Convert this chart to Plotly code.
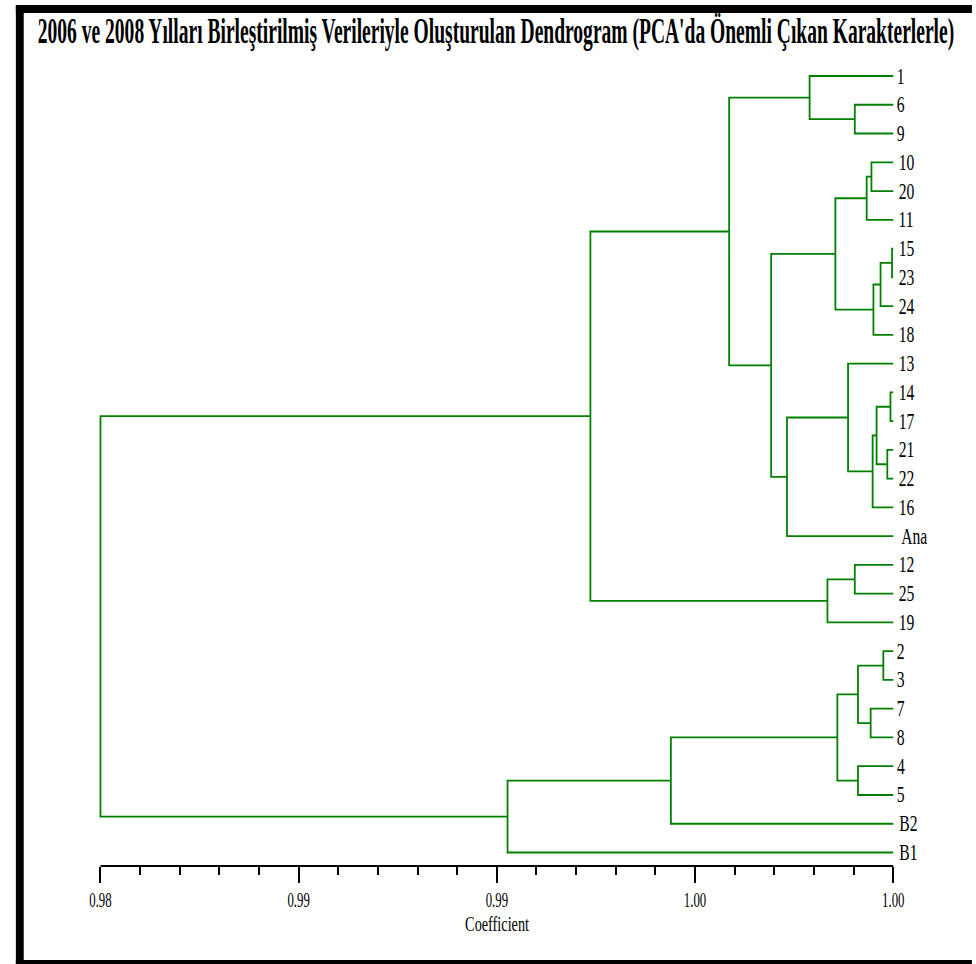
import plotly.graph_objects as go

# ---------------- data ----------------
leaf_labels = ["1", "6", "9", "10", "20", "11", "15", "23", "24", "18",
               "13", "14", "17", "21", "22", "16", "Ana", "12", "25", "19",
               "2", "3", "7", "8", "4", "5", "B2", "B1"]

node_ids = ["n1", "n2", "n3", "n4", "n5", "n6", "n7", "n8", "n9", "n10",
            "n11", "n12", "n13", "n14", "n15", "n16", "n17", "n18", "n19",
            "n20", "n21", "n22", "n23", "n24", "n25", "n26", "n27"]
left_child = ["6", "1", "10", "n3", "15", "n5", "n6", "n4", "14", "21",
              "n9", "n11", "13", "n13", "n8", "n2", "12", "n17", "n16",
              "2", "7", "n20", "4", "n22", "n24", "n25", "n19"]
right_child = ["9", "n1", "20", "11", "23", "24", "18", "n7", "17", "22",
               "n10", "16", "n12", "Ana", "n14", "n15", "25", "19", "n18",
               "3", "8", "n21", "5", "n23", "B2", "B1", "n26"]
merge_height = [0.99903, 0.99789, 0.99945, 0.99933, 0.99997, 0.99968, 0.99950,
                0.99854, 0.99993, 0.99985, 0.99958, 0.99948, 0.99886, 0.99732,
                0.99692, 0.99586, 0.99903, 0.99834, 0.99236, 0.99975, 0.99943,
                0.99911, 0.99911, 0.99859, 0.99439, 0.99027, 0.98000]
leaf_height = 1.0

tick_values = [0.98, 0.985, 0.99, 0.995, 1.00]
tick_labels = ["0.98", "0.99", "0.99", "1.00", "1.00"]
axis_min, axis_max = 0.98, 1.00

title_text = "2006 ve 2008 Yılları Birleştirilmiş Verileriyle Oluşturulan Dendrogram (PCA'da Önemli Çıkan Karakterlerle)"
x_title = "Coefficient"

# ---------------- geometry from the tree ----------------
pos = {lab: (leaf_height, i) for i, lab in enumerate(leaf_labels)}
xs, ys = [], []
for nid, a, b, h in zip(node_ids, left_child, right_child, merge_height):
    xa, ya = pos[a]
    xb, yb = pos[b]
    xs += [xa, h, h, xb, None]
    ys += [ya, ya, yb, yb, None]
    pos[nid] = (h, (ya + yb) / 2)

W, H = 976, 964
GREEN = "#008000"
FONT = "Liberation Serif"

def px_x(p):
    return p / W

def px_y(p):
    return 1 - p / H

pad = 10 * (axis_max - axis_min) / 806.0

fig = go.Figure()
fig.add_trace(go.Scatter(x=xs, y=ys, mode="lines",
                         line=dict(color=GREEN, width=1.8),
                         hoverinfo="skip", showlegend=False))

n = len(leaf_labels)
top_leaf_px, bot_leaf_px = 76.0, 852.5
step = (bot_leaf_px - top_leaf_px) / (n - 1)

annotations = [dict(text=lab, x=leaf_height, xref="x", y=i, yref="y",
                    showarrow=False, xanchor="left", yanchor="middle",
                    xshift=0, yshift=0,
                    font=dict(family=FONT, size=23, color="black"))
               for i, lab in enumerate(leaf_labels)]
annotations.append(dict(text=x_title, x=(axis_min + axis_max) / 2, xref="x",
                        y=px_y(924), yref="paper", showarrow=False,
                        xanchor="center", yanchor="middle",
                        font=dict(family=FONT, size=21, color="black")))

fig.update_layout(
    width=W, height=H,
    margin=dict(l=0, r=0, t=0, b=0),
    paper_bgcolor="white", plot_bgcolor="white",
    showlegend=False,
    title=dict(text=title_text, x=496 / W, xanchor="center",
               y=px_y(31), yanchor="middle",
               font=dict(family=FONT, size=35, color="black", weight="bold")),
    xaxis=dict(domain=[px_x(84), px_x(910)],
               range=[axis_min - pad, axis_max + pad],
               anchor="free", position=px_y(866),
               tickmode="array", tickvals=tick_values, ticktext=tick_labels,
               ticks="outside", ticklen=16, tickwidth=1.5, tickcolor="black",
               tickfont=dict(family=FONT, size=20, color="black"),
               showgrid=False, zeroline=False, showline=False,
               minor=dict(tickmode="linear", tick0=axis_min, dtick=0.001,
                          ticks="outside", ticklen=8, tickwidth=1.5,
                          tickcolor="black", showgrid=False)),
    yaxis=dict(domain=[px_y(bot_leaf_px + step / 2), px_y(top_leaf_px - step / 2)],
               range=[n - 0.5, -0.5], visible=False),
    annotations=annotations,
    shapes=[
        dict(type="line", xref="x", yref="paper", x0=axis_min, x1=axis_max,
             y0=px_y(866), y1=px_y(866), line=dict(color="black", width=2)),
        dict(type="rect", xref="paper", yref="paper", x0=px_x(8), x1=px_x(980),
             y0=px_y(13), y1=px_y(5), fillcolor="black", line=dict(width=0)),
        dict(type="rect", xref="paper", yref="paper", x0=px_x(8), x1=px_x(16),
             y0=px_y(968), y1=px_y(5), fillcolor="black", line=dict(width=0)),
        dict(type="rect", xref="paper", yref="paper", x0=px_x(8), x1=px_x(980),
             y0=px_y(968), y1=px_y(960), fillcolor="black", line=dict(width=0)),
    ],
)

post_js = """
var gd = document.getElementById('{plot_id}');
function sq(t, s) {
  var bb = t.getBBox();
  var a = window.getComputedStyle(t).getPropertyValue('text-anchor') || t.getAttribute('text-anchor') || 'start';
  var cx = a === 'middle' ? bb.x + bb.width / 2 : (a === 'end' ? bb.x + bb.width : bb.x);
  var tr = t.getAttribute('transform') || '';
  t.setAttribute('transform', tr + ' translate(' + cx + ',0) scale(' + s + ',1) translate(' + (-cx) + ',0)');
}
gd.querySelectorAll('svg text').forEach(function (t) {
  if (t.classList.contains('gtitle')) {
    var w = t.getBBox().width;
    if (w > 0) { sq(t, 917 / w); }
  } else if (t.closest('.xtick')) {
    sq(t, 0.64);
  } else {
    sq(t, 0.68);
  }
});
"""

fig.write_html("out.html", post_script=post_js, config={"displayModeBar": False})
